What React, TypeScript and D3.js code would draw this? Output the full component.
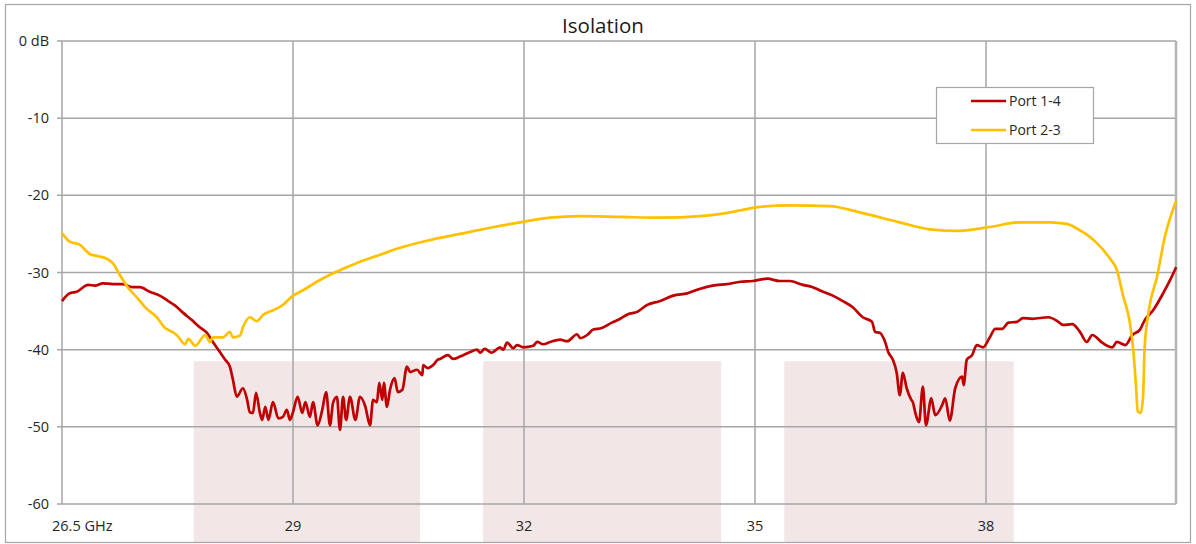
import React from 'react';
import * as d3 from 'd3';

// Port 1-4
const port14Freq = [
  26.0, 26.1, 26.19, 26.34, 26.43, 26.53, 26.66, 26.79, 26.91, 27.01, 27.14, 27.27, 27.38, 27.47, 27.57,
  27.69, 27.79, 27.88, 27.96, 28.05, 28.12, 28.18, 28.22, 28.27, 28.35, 28.4, 28.44, 28.48, 28.52, 28.57,
  28.6, 28.64, 28.68, 28.74, 28.81, 28.87, 28.92, 28.96, 29.0, 29.06, 29.12, 29.16, 29.22, 29.26, 29.32,
  29.38, 29.43, 29.48, 29.52, 29.57, 29.61, 29.65, 29.69, 29.74, 29.81, 29.87, 29.94, 30.0, 30.04, 30.09,
  30.12, 30.16, 30.18, 30.22, 30.26, 30.32, 30.36, 30.42, 30.48, 30.52, 30.61, 30.68, 30.69, 30.75, 30.82,
  30.88, 30.91, 31.01, 31.08, 31.17, 31.3, 31.39, 31.43, 31.49, 31.58, 31.69, 31.73, 31.78, 31.86, 31.91,
  31.99, 32.12, 32.17, 32.25, 32.34, 32.47, 32.56, 32.69, 32.73, 32.82, 32.9, 33.01, 33.14, 33.25, 33.35,
  33.47, 33.6, 33.77, 33.94, 34.12, 34.29, 34.45, 34.64, 34.81, 34.97, 35.16, 35.32, 35.45, 35.62, 35.75,
  35.84, 36.01, 36.14, 36.27, 36.4, 36.52, 36.56, 36.62, 36.69, 36.73, 36.79, 36.84, 36.88, 36.92, 36.97,
  37.03, 37.05, 37.08, 37.13, 37.18, 37.22, 37.29, 37.34, 37.43, 37.47, 37.53, 37.6, 37.69, 37.71, 37.75,
  37.82, 37.88, 37.96, 38.05, 38.12, 38.21, 38.29, 38.4, 38.48, 38.6, 38.81, 38.94, 39.0, 39.12, 39.22,
  39.31, 39.38, 39.51, 39.64, 39.7, 39.81, 39.9, 40.0, 40.06, 40.17, 40.3, 40.39, 40.47,
];
const port14Db = [
  -33.7, -32.7, -32.5, -31.6, -31.7, -31.4, -31.5, -31.5, -31.9, -31.9, -32.5, -33.0, -33.7, -34.3, -35.2,
  -36.2, -37.1, -37.8, -39.0, -40.3, -41.3, -42.2, -43.9, -46.1, -45.0, -46.3, -48.1, -48.2, -45.6, -48.2,
  -49.1, -47.4, -49.1, -46.8, -48.9, -48.7, -47.8, -49.1, -48.1, -46.1, -48.2, -46.8, -48.7, -46.8, -49.8,
  -47.8, -45.5, -49.8, -46.9, -46.1, -50.4, -46.1, -49.1, -46.1, -49.1, -46.1, -47.4, -49.8, -46.5, -46.8,
  -44.3, -46.5, -44.3, -47.4, -45.2, -43.7, -45.5, -45.2, -42.2, -42.9, -42.6, -43.3, -42.0, -42.4, -42.0,
  -41.3, -41.2, -40.7, -41.2, -40.9, -40.3, -40.0, -40.4, -39.9, -40.4, -39.7, -40.0, -39.1, -39.8, -39.4,
  -39.7, -39.5, -39.0, -39.3, -39.0, -38.7, -38.9, -38.0, -38.5, -38.1, -37.4, -37.2, -36.5, -36.0, -35.4,
  -35.1, -34.2, -33.7, -33.0, -32.7, -32.1, -31.7, -31.5, -31.2, -31.1, -30.8, -31.1, -31.1, -31.6, -31.9,
  -32.3, -33.0, -33.7, -34.5, -35.8, -36.4, -37.7, -37.8, -39.0, -40.3, -41.3, -43.0, -45.9, -43.0, -45.0,
  -46.5, -46.8, -48.1, -49.4, -44.8, -49.8, -46.3, -48.5, -47.2, -46.3, -49.2, -45.0, -43.5, -44.6, -41.3,
  -40.7, -39.4, -39.7, -38.4, -37.3, -37.3, -36.5, -36.4, -35.9, -36.0, -35.8, -36.4, -36.8, -36.7, -37.7,
  -39.0, -38.1, -39.1, -39.7, -39.0, -39.4, -38.1, -37.4, -36.2, -34.9, -32.7, -31.0, -29.3,
];

// Port 2-3
const port23Freq = [
  26.0, 26.1, 26.23, 26.36, 26.47, 26.58, 26.66, 26.75, 26.86, 26.97, 27.1, 27.23, 27.34, 27.43, 27.49,
  27.6, 27.64, 27.73, 27.86, 27.92, 27.96, 28.09, 28.18, 28.22, 28.31, 28.35, 28.44, 28.53, 28.61, 28.74,
  28.87, 29.0, 29.13, 29.31, 29.48, 29.61, 29.87, 30.13, 30.39, 30.78, 31.17, 31.56, 31.95, 32.34, 32.73,
  33.25, 33.77, 34.29, 34.68, 35.06, 35.45, 35.97, 36.36, 36.88, 37.27, 37.66, 38.05, 38.44, 38.83, 39.05,
  39.18, 39.42, 39.61, 39.7, 39.78, 39.87, 39.91, 39.95, 39.97, 40.01, 40.04, 40.06, 40.12, 40.22, 40.32,
  40.47,
];
const port23Db = [
  -24.9, -26.0, -26.4, -27.6, -27.9, -28.2, -28.8, -30.3, -32.0, -33.2, -34.7, -35.8, -37.2, -37.7, -38.1,
  -39.3, -38.6, -39.5, -38.1, -39.0, -38.4, -38.4, -37.7, -38.4, -38.2, -37.1, -35.8, -36.3, -35.5, -34.9,
  -34.2, -33.0, -32.3, -31.2, -30.3, -29.7, -28.6, -27.7, -26.8, -25.8, -25.0, -24.2, -23.5, -22.9, -22.7,
  -22.8, -22.9, -22.7, -22.2, -21.5, -21.3, -21.4, -22.2, -23.5, -24.4, -24.6, -24.1, -23.5, -23.5, -23.7,
  -24.3, -26.0, -28.2, -29.7, -33.0, -36.6, -39.8, -45.0, -48.0, -48.2, -46.0, -39.8, -34.6, -30.6, -25.5,
  -20.7,
];

// shaded bands
const bandStart = [27.71, 31.47, 35.38];
const bandEnd = [30.65, 34.56, 38.36];
const bandTopDb = -41.5;

const yTicks = [0, -10, -20, -30, -40, -50, -60];
const xTicks = [29, 32, 35, 38];
const firstLabel = '26.5 GHz';

const series = [
  { name: 'Port 1-4', color: '#C00000', freq: port14Freq, db: port14Db },
  { name: 'Port 2-3', color: '#FFC000', freq: port23Freq, db: port23Db },
];

const W = 1196;
const H = 544;
const left = 62, right = 1176, top = 41, bottom = 504;
const font = "'Open Sans', 'Liberation Sans', sans-serif";

export default function App() {
  const x = d3.scaleLinear().domain([26, 40.4675]).range([left, right]);
  const y = d3.scaleLinear().domain([-60, 0]).range([bottom, top]);

  const line = d3.line<[number, number]>()
    .x(d => x(d[0]))
    .y(d => y(d[1]))
    .curve(d3.curveMonotoneX);

  return (
    <svg width={W} height={H} style={{ position: 'absolute', left: 0, top: 0, fontFamily: font }}>
      <rect x={0} y={0} width={W} height={H} fill="#fff" />
      {bandStart.map((b, i) => (
        <rect key={i} x={x(b)} y={y(bandTopDb)} width={x(bandEnd[i]) - x(b)} height={542 - y(bandTopDb)} fill="#F2E6E7" />
      ))}
      <rect x={5.5} y={4.5} width={1185} height={538} fill="none" stroke="#A6A6A6" strokeWidth={1.2} />

      {yTicks.map(t => (
        <g key={t}>
          <line x1={left - 5} x2={right} y1={y(t)} y2={y(t)} stroke="#A6A6A6" strokeWidth={1.5} />
          <text x={49} y={y(t) + 5} textAnchor="end" fontSize={14.5} fill="#262626">
            {t === 0 ? '0 dB' : t}
          </text>
        </g>
      ))}
      {xTicks.map(t => (
        <g key={t}>
          <line x1={x(t)} x2={x(t)} y1={top} y2={bottom} stroke="#A6A6A6" strokeWidth={1.5} />
          <text x={x(t)} y={531} textAnchor="middle" fontSize={14.5} fill="#262626">{t}</text>
        </g>
      ))}
      <text x={52} y={531} fontSize={14.5} fill="#262626">{firstLabel}</text>
      <line x1={left} x2={left} y1={top} y2={bottom} stroke="#A6A6A6" strokeWidth={1.5} />
      <line x1={right} x2={right} y1={top} y2={bottom} stroke="#B4B4B4" strokeWidth={2.5} />

      {series.map(s => (
        <path
          key={s.name}
          d={line(s.freq.map((f, i) => [f, s.db[i]] as [number, number])) || ''}
          fill="none"
          stroke={s.color}
          strokeWidth={2.7}
          strokeLinejoin="round"
        />
      ))}

      <text x={603} y={33} textAnchor="middle" fontSize={20.5} fill="#1a1a1a">Isolation</text>

      <g>
        <rect x={936.5} y={87.5} width={157} height={56} fill="#fff" stroke="#A6A6A6" strokeWidth={1.2} />
        {series.map((s, i) => (
          <g key={s.name} transform={`translate(0,${101 + i * 29})`}>
            <line x1={971} x2={1006} y1={0} y2={0} stroke={s.color} strokeWidth={2.7} />
            <text x={1009} y={5} fontSize={14} fill="#262626">{s.name}</text>
          </g>
        ))}
      </g>
    </svg>
  );
}
